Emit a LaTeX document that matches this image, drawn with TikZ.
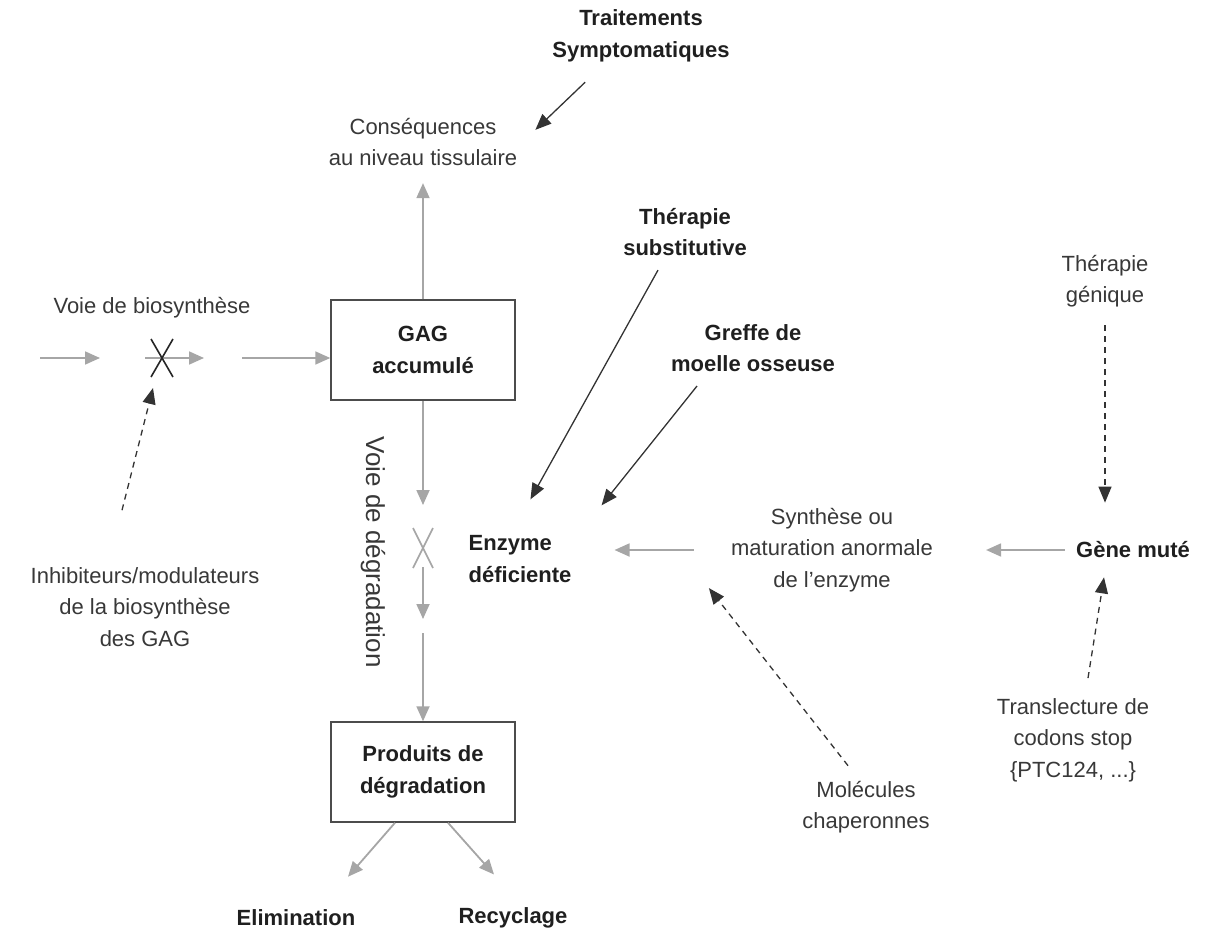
\documentclass[tikz,border=0pt]{standalone}
\usepackage{fontspec}
\setmainfont{Liberation Sans}
\usetikzlibrary{arrows.meta, calc}

\begin{document}
\begin{tikzpicture}[x=1pt, y=-1pt,
    lbl/.style={align=center, inner sep=0pt, text=black!78, font=\fontsize{22}{31.5}\selectfont},
    blbl/.style={lbl, text=black!88, font=\fontsize{22}{31.5}\selectfont\bfseries},
    gagbox/.style={blbl, draw=black!70, line width=1.5pt, minimum width=184pt, minimum height=100pt},
    grayarrow/.style={draw=black!35, line width=1.8pt, -{Triangle[length=15pt, width=13pt]}},
    darkarrow/.style={draw=black!80, line width=1.3pt, -{Triangle[length=16pt, width=13pt]}},
    dasharrow/.style={darkarrow, dash pattern=on 6pt off 5pt}]
    \useasboundingbox (0,0) rectangle (1216,936);

    % noeuds
    \node[blbl] (trait) at (641,36) {Traitements\\Symptomatiques};
    \node[lbl] (cons) at (423,142) {Conséquences\\au niveau tissulaire};
    \node[blbl] (subst) at (685,232) {Thérapie\\substitutive};
    \node[blbl] (greffe) at (753,348) {Greffe de\\moelle osseuse};
    \node[lbl] (genique) at (1105,281) {Thérapie\\génique};
    \node[lbl] (biosyn) at (152,308) {Voie de biosynthèse};
    \node[gagbox] (gag) at (423,350) {GAG\\accumulé};
    \node[lbl] (inhib) at (145,607) {Inhibiteurs/modulateurs\\de la biosynthèse\\des GAG};
    \node[lbl, rotate=-90, font=\fontsize{26}{30}\selectfont] (degr) at (373,552) {Voie de dégradation};
    \node[blbl, align=left] (enzyme) at (520,559) {Enzyme\\déficiente};
    \node[lbl] (synth) at (832,550) {Synthèse ou\\maturation anormale\\de l'enzyme};
    \node[blbl] (gene) at (1133,550) {Gène muté};
    \node[lbl] (transl) at (1073,740) {Translecture de\\codons stop\\\{PTC124, ...\}};
    \node[lbl] (chap) at (866,807) {Molécules\\chaperonnes};
    \node[gagbox] (prod) at (423,772) {Produits de\\dégradation};
    \node[blbl] (elim) at (296,918) {Elimination};
    \node[blbl] (recyc) at (513,918) {Recyclage};

    \coordinate (b1) at (40,358);
    \coordinate (b2) at (100,358);
    \coordinate (b3) at (145,358);
    \coordinate (b4) at (204,358);
    \coordinate (b5) at (242,358);
    \coordinate (xbio) at (162,358);
    \coordinate (xdeg) at (423,548);
    \coordinate (d1) at (423,505);
    \coordinate (d2) at (423,567);
    \coordinate (d3) at (423,619);
    \coordinate (d4) at (423,633);

    % voie de biosynthese
    \draw[grayarrow] (b1) -- (b2);
    \draw[grayarrow] (b3) -- (b4);
    \draw[grayarrow] (b5) -- (gag.west |- b5);
    \draw[black!85, line width=1.6pt] ($(xbio)+(-11,-19)$) -- ($(xbio)+(11,19)$)
        ($(xbio)+(11,-19)$) -- ($(xbio)+(-11,19)$);
    \draw[dasharrow] ($(inhib.north)+(-23,-57)$) -- ($(xbio)+(-9,30)$);

    % voie de degradation
    \draw[grayarrow] (gag.north) -- ($(cons.south)+(0,17)$);
    \draw[grayarrow] (gag.south) -- (d1);
    \draw[black!35, line width=1.6pt] ($(xdeg)+(-10,-20)$) -- ($(xdeg)+(10,20)$)
        ($(xdeg)+(10,-20)$) -- ($(xdeg)+(-10,20)$);
    \draw[grayarrow] (d2) -- (d3);
    \draw[grayarrow] (d4) -- (prod.north);
    \draw[grayarrow] ($(prod.south)+(-28,0)$) -- ($(elim.north)+(52,-33)$);
    \draw[grayarrow] ($(prod.south)+(25,0)$) -- ($(recyc.north)+(-19,-33)$);

    % traitements
    \draw[darkarrow] ($(trait.south west)+(33,20)$) -- ($(cons.north east)+(18,12)$);
    \draw[darkarrow] ($(subst.south)+(-27,14)$) -- ($(enzyme.north west)+(62,-36)$);
    \draw[darkarrow] ($(greffe.south)+(-56,14)$) -- ($(enzyme.north east)+(30,-30)$);
    \draw[grayarrow] ($(synth.west)+(-37,0)$) -- ($(enzyme.east)+(43,-9)$);
    \draw[grayarrow] ($(gene.west)+(-11,0)$) -- ($(synth.east)+(53,0)$);
    \draw[dasharrow] ($(genique.south)+(0,18)$) -- ($(gene.north)+(-28,-39)$);
    \draw[dasharrow] ($(transl.north)+(15,-20)$) -- ($(gene.south)+(-29,19)$);
    \draw[dasharrow] ($(chap.north)+(-18,-15)$) -- ($(synth.south west)+(-22,-4)$);
\end{tikzpicture}
\end{document}
